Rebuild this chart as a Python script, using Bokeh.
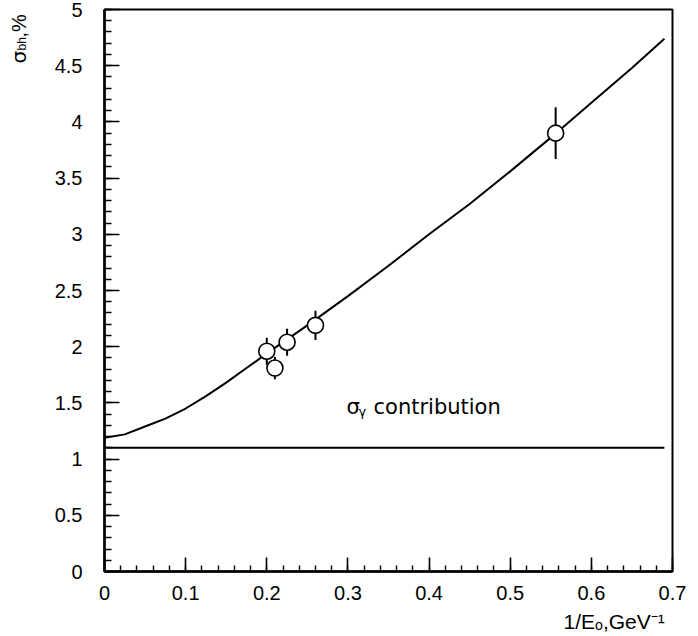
import math
from bokeh.plotting import figure
from bokeh.models import Range1d, FixedTicker, Label
from bokeh.embed import file_html
from bokeh.resources import INLINE

# ---------------- data ----------------
pt_x = [0.200, 0.210, 0.225, 0.260, 0.556]
pt_y = [1.96, 1.81, 2.04, 2.19, 3.90]
pt_err = [0.12, 0.10, 0.12, 0.13, 0.23]

fit_x = [0.0, 0.025, 0.05, 0.075, 0.10, 0.125, 0.15, 0.175, 0.20, 0.25,
         0.30, 0.35, 0.40, 0.45, 0.50, 0.55, 0.60, 0.65, 0.69]
fit_y = [1.19, 1.22, 1.29, 1.36, 1.45, 1.56, 1.68, 1.81, 1.94, 2.19,
         2.45, 2.72, 3.00, 3.27, 3.56, 3.86, 4.17, 4.48, 4.74]

gamma_x = [0.0, 0.69]
gamma_y = [1.10, 1.10]

x_ticks = [0.0, 0.1, 0.2, 0.3, 0.4, 0.5, 0.6, 0.7]
x_tick_labels = ["0", "0.1", "0.2", "0.3", "0.4", "0.5", "0.6", "0.7"]
y_ticks = [0.0, 0.5, 1.0, 1.5, 2.0, 2.5, 3.0, 3.5, 4.0, 4.5, 5.0]
y_tick_labels = ["0", "0.5", "1", "1.5", "2", "2.5", "3", "3.5", "4", "4.5", "5"]
x_minor = [round(0.02 * i, 2) for i in range(36)]
y_minor = [round(0.1 * i, 1) for i in range(51)]

# ---------------- layout ----------------
W, H = 698, 636
FL, FR, FT, FB = 104, 672, 9, 571
XMAX, YMAX = 0.7, 5.0
sx = (FR - FL) / XMAX
sy = (FB - FT) / YMAX


def dx(px):
    return (px - FL) / sx


def dy(py):
    return (FB - py) / sy


p = figure(width=W, height=H, output_backend="svg", toolbar_location=None,
           x_range=Range1d(0, XMAX), y_range=Range1d(0, YMAX),
           min_border_left=FL, min_border_right=W - FR,
           min_border_top=FT, min_border_bottom=H - FB)
p.background_fill_color = "white"
p.border_fill_color = "white"
p.outline_line_color = "black"
p.outline_line_width = 2
p.grid.visible = False

FONT = "Liberation Sans"

for ax, ticks, labels, minor in ((p.xaxis, x_ticks, x_tick_labels, x_minor),
                                 (p.yaxis, y_ticks, y_tick_labels, y_minor)):
    ax.ticker = FixedTicker(ticks=ticks, minor_ticks=minor)
    ax.major_label_overrides = {t: l for t, l in zip(ticks, labels)}
    ax.axis_line_width = 2.5
    ax.axis_line_color = "black"
    ax.major_tick_out = 0
    ax.minor_tick_out = 0
    ax.major_tick_line_width = 1.6
    ax.minor_tick_line_width = 1.4
    ax.major_tick_line_color = "black"
    ax.minor_tick_line_color = "black"
    ax.major_label_text_font = FONT
    ax.major_label_text_font_size = "20px"
    ax.major_label_text_color = "black"

p.xaxis.major_tick_in = 14
p.xaxis.minor_tick_in = 6
p.xaxis.major_label_standoff = 14
p.yaxis.major_tick_in = 15
p.yaxis.minor_tick_in = 7
p.yaxis.major_label_standoff = 22

# sigma_gamma contribution line
p.line(gamma_x, gamma_y, line_color="black", line_width=2)
# fit curve
p.line(fit_x, fit_y, line_color="black", line_width=2)
# error bars
p.segment(x0=pt_x, y0=[y - e for y, e in zip(pt_y, pt_err)],
          x1=pt_x, y1=[y + e for y, e in zip(pt_y, pt_err)],
          line_color="black", line_width=2)
# points
p.scatter(pt_x, pt_y, marker="circle", size=16, fill_color="white",
          line_color="black", line_width=1.6)


def lab(text, px, py, size, font=FONT, angle=0.0, place="center"):
    l = Label(x=dx(px), y=dy(py), text=text, angle=angle,
              text_font=font, text_font_size=f"{size}px",
              text_color="black", text_align="left",
              text_baseline="alphabetic")
    p.add_layout(l, place)


# sigma_gamma contribution label (inside the frame)
lab("σ", 346, 406, 21, "DejaVu Sans")
lab("γ", 358, 411, 13, "DejaVu Sans")
lab("contribution", 373, 406, 21, "DejaVu Sans")

# x-axis label: 1/E_o, GeV^-1 (in the bottom panel, so it is not clipped)
lab("1/Eₒ,GeV⁻¹", 563, 621, 21, FONT, 0.0, "below")

# y-axis label: sigma_bh, % (side panels, so they are not clipped)
A = math.pi / 2
lab("σ", 18, 63, 20, "DejaVu Sans", A, "left")
lab("bh", 21, 50, 12, FONT, A, "left")
lab(",%", 18, 37, 20, FONT, A, "right")

open("out.html", "w").write(file_html(p, INLINE))
